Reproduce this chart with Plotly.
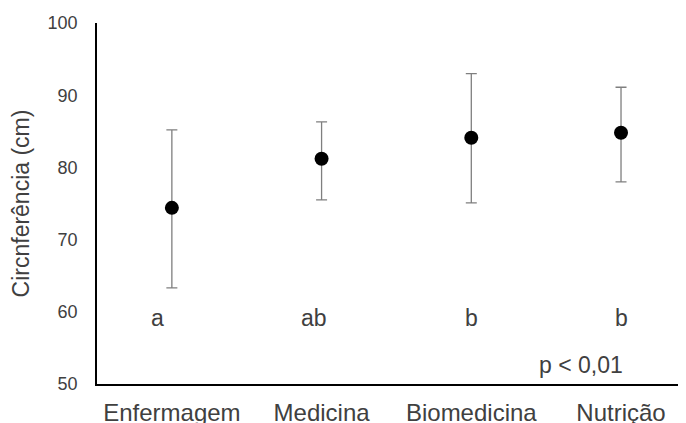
import plotly.graph_objects as go

categories = ["Enfermagem", "Medicina", "Biomedicina", "Nutrição"]
means = [74.4, 81.2, 84.1, 84.8]
upper = [85.2, 86.3, 93.0, 91.1]
lower = [63.3, 75.5, 75.1, 78.0]
letters = ["a", "ab", "b", "b"]
letter_y = 59.1
letter_shift = [-14, -8, 0, 0]
y_ticks = [50, 60, 70, 80, 90, 100]
p_text = "p < 0,01"

err_plus = [u - m for u, m in zip(upper, means)]
err_minus = [m - l for m, l in zip(means, lower)]
xs = list(range(len(categories)))

font = "Liberation Sans, Arial, sans-serif"
txt = "#404040"

fig = go.Figure()
fig.add_trace(go.Scatter(
    x=xs, y=means, mode="markers",
    marker=dict(color="black", size=14),
    error_y=dict(type="data", symmetric=False, array=err_plus, arrayminus=err_minus,
                 color="#7f7f7f", thickness=1.3, width=5.5),
    showlegend=False, hoverinfo="skip",
))

for i, (lt, sh) in enumerate(zip(letters, letter_shift)):
    fig.add_annotation(x=xs[i], y=letter_y, text=lt, showarrow=False, xshift=sh,
                       font=dict(family=font, size=23, color=txt))

fig.add_annotation(x=2.73, y=52.6, text=p_text, showarrow=False,
                   font=dict(family=font, size=23, color=txt))

fig.update_layout(
    width=678, height=415,
    margin=dict(l=89, r=0, t=15, b=39, autoexpand=False),
    plot_bgcolor="white", paper_bgcolor="white",
    xaxis=dict(range=[-0.5, 3.434], tickvals=xs, ticktext=categories,
               showline=True, linecolor="black", linewidth=1.5, showgrid=False,
               zeroline=False, ticks="", ticklabelstandoff=6, automargin=False,
               tickfont=dict(family=font, size=24, color=txt)),
    yaxis=dict(range=[50, 100], tickvals=y_ticks, showline=True, linecolor="black",
               linewidth=1.5, showgrid=False, zeroline=False, ticks="",
               ticklabelstandoff=14, automargin=False,
               tickfont=dict(family=font, size=18, color=txt),
               title=dict(text="Circnferência (cm)", standoff=12,
                          font=dict(family=font, size=23, color=txt))),
)

fig.write_html("out.html")
